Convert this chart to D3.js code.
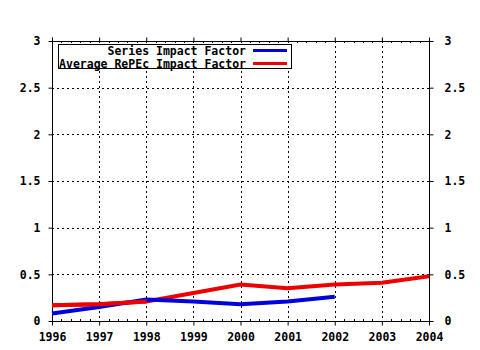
<!DOCTYPE html>
<html><head><meta charset="utf-8">
<script src="https://cdn.jsdelivr.net/npm/d3@7"></script>
<style>
html,body{margin:0;padding:0;background:#fff;}
svg{display:block;}
text{font-family:"DejaVu Sans Mono",monospace;font-weight:bold;font-size:11.5px;fill:#000;}
</style></head>
<body><svg id="c" width="480" height="350"></svg>
<script>
const years = [1996,1997,1998,1999,2000,2001,2002,2003,2004];
const seriesYears = [1996,1997,1998,1999,2000,2001,2002];
const seriesIF = [0.08,0.15,0.23,0.21,0.18,0.21,0.26];
const avgIF = [0.17,0.18,0.21,0.30,0.39,0.35,0.39,0.41,0.48];
const yTicks = [0,0.5,1,1.5,2,2.5,3];
const yTickLabels = ["0","0.5","1","1.5","2","2.5","3"];
const legendNames = ["Series Impact Factor","Average RePEc Impact Factor"];
const colors = ["#0000dd","#ee0000"];

const svg = d3.select("#c");
const L=52, R=429, T=41, B=321;
const x = d3.scaleLinear().domain([1996,2004]).range([L,R]);
const y = d3.scaleLinear().domain([0,3]).range([B,T]);

// grid
const g = svg.append("g");
g.selectAll(".vg").data(years.slice(1,-1)).enter().append("line")
  .attr("x1",d=>Math.round(x(d))+0.5).attr("x2",d=>Math.round(x(d))+0.5)
  .attr("y1",T).attr("y2",B).attr("stroke","#000").attr("stroke-width",1).attr("stroke-dasharray","2,3");
g.selectAll(".hg").data(yTicks.slice(1,-1)).enter().append("line")
  .attr("y1",d=>Math.round(y(d))+0.5).attr("y2",d=>Math.round(y(d))+0.5)
  .attr("x1",L).attr("x2",R).attr("stroke","#000").attr("stroke-width",1).attr("stroke-dasharray","2,3");

// minor ticks (inward) on top and bottom
const minor = [];
for (let i=0;i<years.length-1;i++) for (let k=1;k<5;k++) minor.push(years[i]+k/5);
g.selectAll(".mb").data(minor).enter().append("line")
  .attr("x1",d=>Math.round(x(d))+0.5).attr("x2",d=>Math.round(x(d))+0.5)
  .attr("y1",B-2).attr("y2",B).attr("stroke","#000");
g.selectAll(".mt").data(minor).enter().append("line")
  .attr("x1",d=>Math.round(x(d))+0.5).attr("x2",d=>Math.round(x(d))+0.5)
  .attr("y1",T).attr("y2",T+2).attr("stroke","#000");

// axes
const fmtY = d => yTickLabels[yTicks.indexOf(d)];
const axB = svg.append("g").attr("transform",`translate(0,${B+0.5})`)
  .call(d3.axisBottom(x).tickValues(years).tickFormat(d3.format("d")).tickSize(4).tickPadding(7));
const axT = svg.append("g").attr("transform",`translate(0,${T+0.5})`)
  .call(d3.axisTop(x).tickValues(years).tickFormat("").tickSize(4));
const axL = svg.append("g").attr("transform",`translate(${L+0.5},0)`)
  .call(d3.axisLeft(y).tickValues(yTicks).tickFormat(fmtY).tickSize(4).tickPadding(8));
const axR = svg.append("g").attr("transform",`translate(${R+0.5},0)`)
  .call(d3.axisRight(y).tickValues(yTicks).tickFormat(fmtY).tickSize(4).tickPadding(11));
[axB,axT,axL,axR].forEach(a=>{
  a.select(".domain").attr("stroke","#000").attr("d",null);
  a.selectAll(".tick line").attr("stroke","#000");
  a.selectAll("text").attr("font-family",null).attr("font-size",null);
});
// frame lines
svg.append("line").attr("x1",L).attr("x2",R+1).attr("y1",B+0.5).attr("y2",B+0.5).attr("stroke","#000");
svg.append("line").attr("x1",L).attr("x2",R+1).attr("y1",T+0.5).attr("y2",T+0.5).attr("stroke","#000");
svg.append("line").attr("x1",L+0.5).attr("x2",L+0.5).attr("y1",T).attr("y2",B+1).attr("stroke","#000");
svg.append("line").attr("x1",R+0.5).attr("x2",R+0.5).attr("y1",T).attr("y2",B+1).attr("stroke","#000");
axB.selectAll("text").attr("dy","0.71em");

// lines
const line = d3.line().x(d=>x(d[0])).y(d=>y(d[1]));
svg.append("path").datum(years.map((yr,i)=>[yr,avgIF[i]]))
  .attr("d",line).attr("fill","none").attr("stroke",colors[1]).attr("stroke-width",4);
svg.append("path").datum(seriesYears.map((yr,i)=>[yr,seriesIF[i]]))
  .attr("d",line).attr("fill","none").attr("stroke",colors[0]).attr("stroke-width",4);
// redraw red over blue where red was on top originally near 1997-1998
svg.append("path").datum(years.slice(0,3).map((yr,i)=>[yr,avgIF[i]]))
  .attr("d",line).attr("fill","none").attr("stroke",colors[1]).attr("stroke-width",4);

// legend
const lg = svg.append("g");
lg.append("rect").attr("x",58.5).attr("y",44.5).attr("width",233).attr("height",24)
  .attr("fill","#fff").attr("stroke","#000");
legendNames.forEach((n,i)=>{
  const yy = 50.5 + i*13;
  lg.append("text").attr("x",246).attr("y",yy+4).attr("text-anchor","end").text(n);
  lg.append("line").attr("x1",253).attr("x2",287).attr("y1",yy).attr("y2",yy)
    .attr("stroke",colors[i]).attr("stroke-width",3);
});
</script></body></html>
